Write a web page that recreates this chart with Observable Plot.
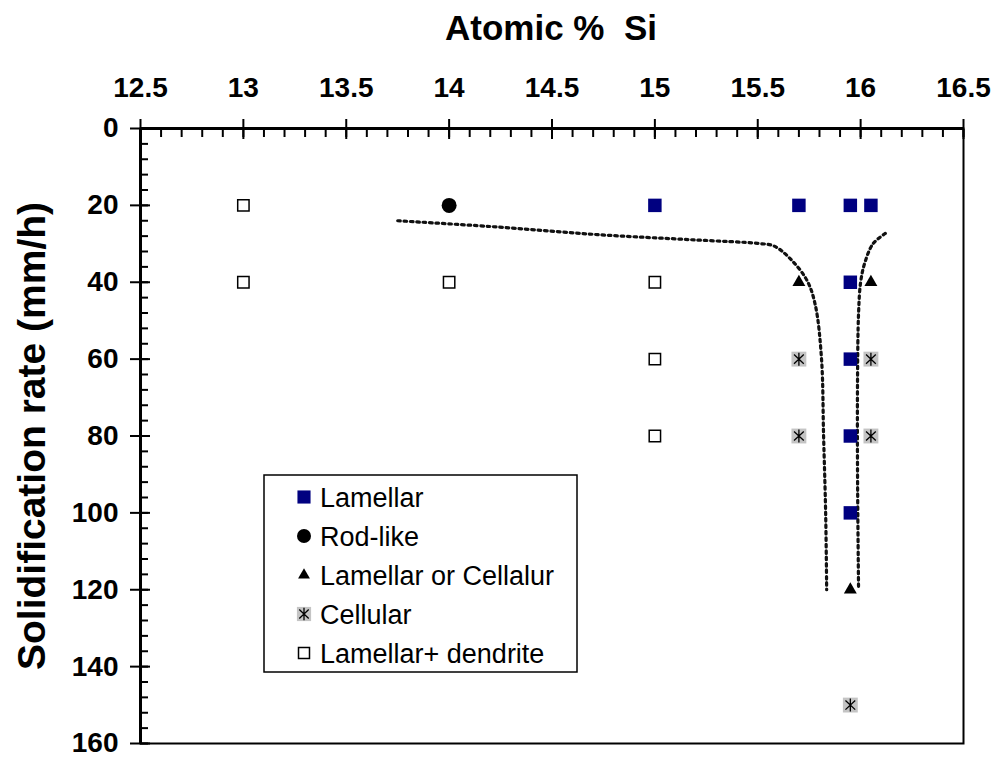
<!DOCTYPE html>
<html>
<head>
<meta charset="utf-8">
<script src="https://cdn.jsdelivr.net/npm/d3@7"></script>
<script src="https://cdn.jsdelivr.net/npm/@observablehq/plot@0.6"></script>
<style>
  body { margin: 0; background: #fff; }
  #chart svg { display: block; }
</style>
</head>
<body>
<div id="chart"></div>
<script>
// Microstructure observed for each Si content (at.%) and solidification rate (mm/h)
const lamellarSi   = [15, 15.7, 15.95, 16.05, 15.95, 15.95, 15.95, 15.95];
const lamellarRate = [20, 20, 20, 20, 40, 60, 80, 100];

const rodSi   = [14];
const rodRate = [20];

const mixedSi   = [15.7, 16.05, 15.95];
const mixedRate = [40, 40, 120];

const cellularSi   = [15.7, 15.7, 16.05, 16.05, 15.95];
const cellularRate = [60, 80, 60, 80, 150];

const dendriteSi   = [13, 13, 14, 15, 15, 15];
const dendriteRate = [20, 40, 40, 40, 60, 80];

// Dotted boundaries of the coupled-growth zone
const leftBoundSi   = [13.75, 14.2, 14.72, 15.2, 15.5, 15.58, 15.66, 15.74, 15.78, 15.81, 15.82, 15.83, 15.835];
const leftBoundRate = [24, 25.5, 27.6, 29, 29.9, 30.6, 34, 39.6, 46, 60, 80, 100, 120];
const rightBoundSi   = [16.12, 16.06, 16.02, 16.0, 15.99, 15.985, 15.985, 15.99];
const rightBoundRate = [27.3, 30, 35, 40, 48, 65, 90, 120];

// Axis ticks
const xTicks = [12.5, 13, 13.5, 14, 14.5, 15, 15.5, 16, 16.5];
const yTicks = [0, 20, 40, 60, 80, 100, 120, 140, 160];
const xMinor = d3.range(125, 166).map(d => d / 10);
const yMinor = d3.range(0, 161, 4);

const legendLabels = ["Lamellar", "Rod-like", "Lamellar or Cellalur", "Cellular", "Lamellar+ dendrite"];

const zip = (xs, ys) => xs.map((x, i) => ({si: x, rate: ys[i]}));
const lamellar = zip(lamellarSi, lamellarRate);
const rod = zip(rodSi, rodRate);
const mixed = zip(mixedSi, mixedRate);
const cellular = zip(cellularSi, cellularRate);
const dendrite = zip(dendriteSi, dendriteRate);
const leftBound = zip(leftBoundSi, leftBoundRate);
const rightBound = zip(rightBoundSi, rightBoundRate);

// A "Cellular" marker: vertical stroke crossed by an X
const asterisk = {
  draw(ctx, size) {
    const r = Math.sqrt(size / Math.PI);
    ctx.moveTo(0, -r); ctx.lineTo(0, r);
    ctx.moveTo(-0.75 * r, -0.7 * r); ctx.lineTo(0.75 * r, 0.7 * r);
    ctx.moveTo(0.75 * r, -0.7 * r); ctx.lineTo(-0.75 * r, 0.7 * r);
  }
};

const font = "'Liberation Sans', Arial, sans-serif";
const navy = "#000080";
const grey = "#c4c4c4";
const blank = () => "";
const dotted = {curve: "catmull-rom", stroke: "#111", strokeWidth: 3.2, strokeDasharray: "2.6,3.8"};

const svg = Plot.plot({
  width: 995,
  height: 757,
  marginTop: 128,
  marginLeft: 140,
  marginRight: 32,
  marginBottom: 14,
  style: {fontFamily: font, background: "#fff", overflow: "visible"},
  x: {domain: [12.5, 16.5], label: null},
  y: {domain: [0, 160], reverse: true, label: null},
  marks: [
    Plot.frame({stroke: "#000", strokeWidth: 2}),
    // top axis: labels + outer half of major ticks
    Plot.axisX({anchor: "top", ticks: xTicks, tickSize: 10, tickPadding: 22, strokeWidth: 2,
      fontSize: 28, fontWeight: "bold", fill: "#000", tickFormat: d => String(d), label: null}),
    Plot.axisX({anchor: "top", ticks: xTicks, tickSize: 10, dy: 10, strokeWidth: 2, tickFormat: blank, label: null}),
    Plot.axisX({anchor: "top", ticks: xMinor, tickSize: 8, dy: 8, strokeWidth: 2, tickFormat: blank, label: null}),
    // left axis
    Plot.axisY({anchor: "left", ticks: yTicks, tickSize: 10, tickPadding: 12, strokeWidth: 2,
      fontSize: 28, fontWeight: "bold", fill: "#000", tickFormat: d => String(d), label: null}),
    Plot.axisY({anchor: "left", ticks: yTicks, tickSize: 10, dx: 10, strokeWidth: 2, tickFormat: blank, label: null}),
    Plot.axisY({anchor: "left", ticks: yMinor, tickSize: 8, dx: 8, strokeWidth: 2, tickFormat: blank, label: null}),
    Plot.ruleY([0], {stroke: "#000", strokeWidth: 3}),
    Plot.ruleX([12.5], {stroke: "#000", strokeWidth: 3}),
    // boundaries
    Plot.line(leftBound, {x: "si", y: "rate", ...dotted}),
    Plot.line(rightBound, {x: "si", y: "rate", ...dotted}),
    // observations
    Plot.dot(dendrite, {x: "si", y: "rate", symbol: "square", r: 6.4, fill: "#fff", stroke: "#000", strokeWidth: 1.5}),
    Plot.dot(cellular, {x: "si", y: "rate", symbol: "square", r: 8.4, fill: grey}),
    Plot.dot(cellular, {x: "si", y: "rate", symbol: asterisk, r: 6.5, fill: "none", stroke: "#000", strokeWidth: 1.3}),
    Plot.dot(lamellar, {x: "si", y: "rate", symbol: "square", r: 7.6, fill: navy}),
    Plot.dot(rod, {x: "si", y: "rate", symbol: "circle", r: 7.5, fill: "#000"}),
    Plot.dot(mixed, {x: "si", y: "rate", symbol: "triangle", r: 4.8, fill: "#000"})
  ]
});

const root = d3.select(svg);

// axis titles
root.append("text")
  .attr("x", 551).attr("y", 40)
  .attr("text-anchor", "middle")
  .attr("xml:space", "preserve")
  .style("white-space", "pre")
  .attr("font-family", font).attr("font-size", 35).attr("font-weight", "bold")
  .attr("fill", "#000")
  .text("Atomic %  Si");

root.append("text")
  .attr("transform", "translate(45,436) rotate(-90)")
  .attr("text-anchor", "middle")
  .attr("font-family", font).attr("font-size", 39).attr("font-weight", "bold")
  .attr("fill", "#000")
  .text("Solidification rate (mm/h)");

// legend
const lg = root.append("g").attr("transform", "translate(264,475)");
lg.append("rect").attr("width", 313).attr("height", 197)
  .attr("fill", "#fff").attr("stroke", "#000").attr("stroke-width", 1.5);

const sym = (type, r) => d3.symbol(type, r * r * Math.PI)();
const legendMarks = [
  g => g.append("path").attr("d", sym(d3.symbolSquare, 7.4)).attr("fill", navy),
  g => g.append("path").attr("d", sym(d3.symbolCircle, 7)).attr("fill", "#000"),
  g => g.append("path").attr("d", sym(d3.symbolTriangle, 4.4)).attr("fill", "#000"),
  g => {
    g.append("path").attr("d", sym(d3.symbolSquare, 8)).attr("fill", grey);
    g.append("path").attr("d", sym(asterisk, 6.3)).attr("fill", "none").attr("stroke", "#000").attr("stroke-width", 1.3);
  },
  g => g.append("path").attr("d", sym(d3.symbolSquare, 6.2)).attr("fill", "#fff").attr("stroke", "#000").attr("stroke-width", 1.5)
];
legendLabels.forEach((label, i) => {
  const row = lg.append("g").attr("transform", `translate(40,${22 + i * 39})`);
  legendMarks[i](row);
  row.append("text").attr("x", 16).attr("dy", "0.36em")
    .attr("text-anchor", "start")
    .attr("font-family", font).attr("font-size", 27).attr("fill", "#000")
    .text(label);
});

document.getElementById("chart").appendChild(svg);
</script>
</body>
</html>
